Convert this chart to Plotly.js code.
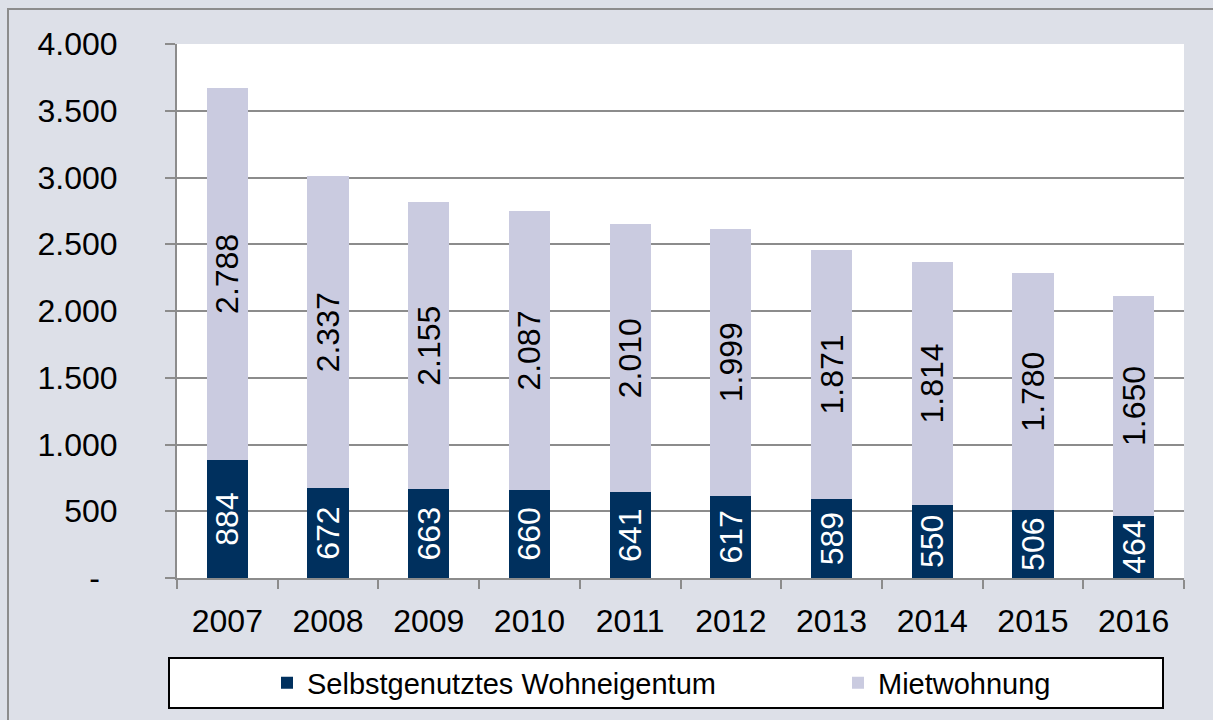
<!DOCTYPE html>
<html>
<head>
<meta charset="utf-8">
<script src="https://cdn.plot.ly/plotly-3.0.1.min.js"></script>
<style>
html,body{margin:0;padding:0;background:#dde0e8;}
#chart{width:1213px;height:720px;}
</style>
</head>
<body>
<div id="chart"></div>
<script>
var years = ['2007','2008','2009','2010','2011','2012','2013','2014','2015','2016'];
var selbstgenutzt = [884, 672, 663, 660, 641, 617, 589, 550, 506, 464];
var mietwohnung = [2788, 2337, 2155, 2087, 2010, 1999, 1871, 1814, 1780, 1650];
var yTickVals = [0, 500, 1000, 1500, 2000, 2500, 3000, 3500, 4000];
var yTickText = ['-\u00a0\u00a0', '500', '1.000', '1.500', '2.000', '2.500', '3.000', '3.500', '4.000'];
var seriesNames = ['Selbstgenutztes Wohneigentum', 'Mietwohnung'];

function fmt(v){
  var s = String(v);
  return s.replace(/\B(?=(\d{3})+(?!\d))/g, '.');
}

var FONT = 'Liberation Sans, Arial, sans-serif';

var trace1 = {
  type: 'bar', x: years, y: selbstgenutzt, name: seriesNames[0], legend: 'legend',
  marker: {color: '#00305e'},
  text: selbstgenutzt.map(fmt), textposition: 'inside', insidetextanchor: 'middle',
  textangle: -90, constraintext: 'none',
  insidetextfont: {family: FONT, size: 32, color: '#ffffff'},
  hoverinfo: 'skip'
};
var trace2 = {
  type: 'bar', x: years, y: mietwohnung, name: seriesNames[1], legend: 'legend2',
  marker: {color: '#cacbe0'},
  text: mietwohnung.map(fmt), textposition: 'inside', insidetextanchor: 'middle',
  textangle: -90, constraintext: 'none',
  insidetextfont: {family: FONT, size: 32, color: '#000000'},
  hoverinfo: 'skip'
};

// pixel helpers for paper coords
var L = 177, R = 1184, T = 44, B = 578;
function px(x){ return (x - L) / (R - L); }
function py(y){ return (B - y) / (B - T); }

var legendFont = {family: FONT, size: 29, color: '#000000'};

var layout = {
  width: 1213, height: 720,
  paper_bgcolor: '#dde0e8', plot_bgcolor: '#ffffff',
  margin: {l: L, r: 1213 - R, t: T, b: 720 - B, pad: 0, autoexpand: false},
  barmode: 'stack', bargap: 0.59,
  showlegend: true,
  font: {family: FONT, size: 32, color: '#000000'},
  xaxis: {
    type: 'category', tickson: 'boundaries', ticks: 'outside', ticklen: 9,
    tickwidth: 2, tickcolor: '#8c8c8c',
    showline: true, linecolor: '#8c8c8c', linewidth: 2,
    showgrid: false, ticklabelstandoff: 14, automargin: false,
    tickfont: {family: FONT, size: 32, color: '#000000'}
  },
  yaxis: {
    range: [0, 4000], tickvals: yTickVals, ticktext: yTickText,
    ticks: 'outside', ticklen: 10, tickwidth: 2, tickcolor: '#8c8c8c',
    showline: true, linecolor: '#8c8c8c', linewidth: 2,
    showgrid: true, gridcolor: '#8c8c8c', gridwidth: 2,
    zeroline: false, ticklabelstandoff: 41, automargin: false,
    tickfont: {family: FONT, size: 32, color: '#000000'}
  },
  legend: {
    orientation: 'h', x: px(267), xanchor: 'left', y: py(683), yanchor: 'middle',
    bgcolor: 'rgba(0,0,0,0)', borderwidth: 0, font: legendFont
  },
  legend2: {
    orientation: 'h', x: px(838), xanchor: 'left', y: py(683), yanchor: 'middle',
    bgcolor: 'rgba(0,0,0,0)', borderwidth: 0, font: legendFont
  },
  shapes: [
    {type: 'rect', xref: 'paper', yref: 'paper', x0: px(169), x1: px(1163), y0: py(658), y1: py(708),
     line: {color: '#000000', width: 2}, fillcolor: '#ffffff', layer: 'below'},
    {type: 'rect', xref: 'paper', yref: 'paper', x0: px(8), x1: px(1225), y0: py(9), y1: py(730),
     line: {color: '#8c8c8c', width: 2}, fillcolor: 'rgba(0,0,0,0)', layer: 'below'}
  ]
};

Plotly.newPlot('chart', [trace1, trace2], layout, {displayModeBar: false, staticPlot: true});
</script>
</body>
</html>
